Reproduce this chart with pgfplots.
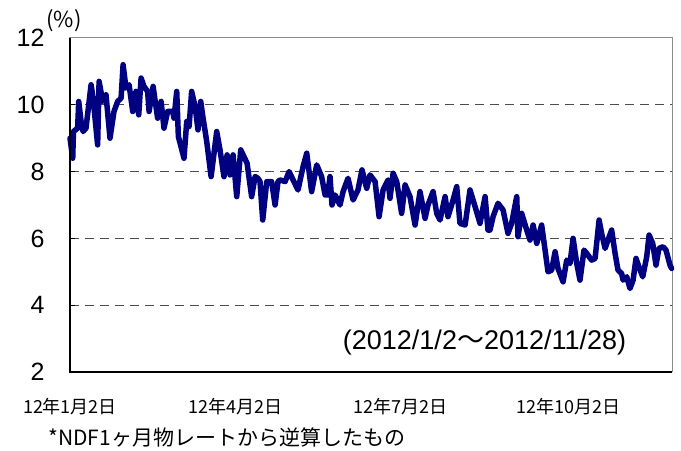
\documentclass[border=0pt]{standalone}
\usepackage{pgfplots}
\pgfplotsset{compat=1.18}
\usepackage{fontspec}
\setmainfont{Liberation Sans}
\newfontfamily\cjk{Noto Sans CJK JP}
\definecolor{navyline}{RGB}{0,0,128}
\pgfplotstableread{
day rate
0 9.0
1.5 8.4
1.9 9.2
4.2 9.3
4.8 10.1
6.1 9.5
7.2 9.2
8.8 9.3
11.6 10.6
12.7 10.2
15.2 8.8
16.0 10.7
18.0 10.1
19.8 10.3
22.0 9.0
24.2 9.8
26.2 10.1
28.1 10.2
29.2 11.2
30.8 10.5
32.5 10.6
34.5 9.8
36.3 10.4
37.8 9.7
39.1 10.8
40.7 10.55
42.7 10.4
43.5 9.8
45.7 10.55
48.2 9.6
50.1 10.1
51.7 9.3
53.7 9.8
56.5 9.8
57.2 9.6
58.7 10.4
59.6 9.05
62.7 8.4
64.2 9.5
65.5 9.35
66.9 10.4
68.8 9.95
70.4 9.25
71.9 10.1
73.2 9.6
75.2 8.9
77.6 7.85
80.7 9.2
82.5 8.65
84.7 7.85
86.4 8.5
88.0 7.9
89.7 8.5
91.7 7.25
93.9 8.65
97.4 8.25
99.9 7.25
101.8 7.85
103.4 7.8
104.5 7.7
106.0 6.55
108.2 7.7
110.9 7.7
112.8 7.0
114.4 7.7
115.5 7.75
118.3 7.7
120.5 8.0
122.7 7.75
125.4 7.45
128.2 8.15
130.2 8.55
132.9 7.4
135.7 8.2
138.4 7.85
140.3 7.3
141.7 7.3
143.0 7.85
144.1 7.0
145.8 7.3
148.5 7.0
150.2 7.4
152.9 7.8
155.7 7.15
158.4 7.45
160.6 8.05
163.2 7.5
165.0 7.9
167.8 7.7
170.0 6.65
172.2 7.45
174.9 7.75
176.0 7.2
177.7 7.95
179.7 7.7
182.4 6.75
184.3 7.6
187.0 7.25
189.8 6.4
192.5 7.4
195.3 6.6
196.9 7.0
199.7 7.4
201.7 6.75
203.5 6.55
206.3 7.25
207.9 6.65
210.7 7.15
212.7 7.55
214.5 6.45
217.3 6.4
220.0 7.45
222.8 6.95
225.5 6.45
228.3 7.25
229.9 6.25
231.0 6.25
232.7 6.65
235.4 7.05
238.2 6.85
240.9 6.15
242.9 6.45
245.7 7.25
246.4 6.05
248.4 6.75
251.2 6.25
253.0 5.95
254.7 6.4
256.7 5.85
259.4 6.4
261.3 5.65
262.9 5.0
264.9 5.05
266.8 5.6
268.4 5.1
271.2 4.7
273.2 5.35
275.0 5.25
276.7 6.0
278.7 5.25
280.5 4.75
282.7 5.65
284.2 5.55
286.9 5.35
288.8 5.4
291.0 6.55
292.4 6.15
294.3 5.7
295.9 5.95
297.9 6.25
299.8 5.55
301.4 5.05
303.4 4.95
304.2 4.75
306.2 4.85
308.0 4.5
309.7 4.75
311.3 5.4
312.9 5.15
315.0 4.85
317.2 5.45
318.5 6.1
320.5 5.85
322.3 5.2
323.9 5.7
326.2 5.75
327.8 5.65
330.0 5.2
330.9 5.1
}\ratedata
\begin{document}
\begin{tikzpicture}
\begin{axis}[
  name=ax,
  scale only axis,
  width=602pt, height=334pt,
  xmin=0, xmax=331.1,
  ymin=2, ymax=12,
  ytick={2,4,6,8,10,12},
  xtick={0,91,182,274},
  xticklabels={12年1月2日,12年4月2日,12年7月2日,12年10月2日},
  xticklabel style={font=\cjk\fontsize{18}{21}\selectfont, yshift=-23pt},
  yticklabel style={font=\fontsize{25}{28}\selectfont, xshift=-22pt},
  /pgf/number format/assume math mode=true,
  ymajorgrids,
  grid style={black!70, line width=1pt, dash pattern=on 9pt off 6pt},
  axis line style={black!45, line width=1pt},
  ytick pos=left,
  tick align=inside,
  major tick length=5pt,
  ytick style={black, line width=1pt},
  xtick style={draw=none},
  clip=false,
]
\addplot[navyline, line width=5.5pt, line join=round, line cap=round] table[x=day, y=rate] {\ratedata};
\draw[black, line width=1.2pt] (rel axis cs:0,1) -- (rel axis cs:0,0) -- (rel axis cs:1,0);
\node[font=\fontsize{27}{31}\selectfont] at (axis cs:228,2.87) {(2012/1/2{\cjk ～}2012/11/28)};
\end{axis}
\node[font=\cjk\fontsize{22}{26}\selectfont] at ([xshift=-6pt,yshift=17pt]ax.north west) {(\%)};
\node[anchor=west, font=\cjk\fontsize{21}{25}\selectfont] at ([xshift=-25pt,yshift=-65pt]ax.south west) {*NDF1ヶ月物レートから逆算したもの};
\path ([xshift=-70pt,yshift=-78pt]ax.south west) rectangle ([xshift=9pt,yshift=38pt]ax.north east);
\end{tikzpicture}
\end{document}
